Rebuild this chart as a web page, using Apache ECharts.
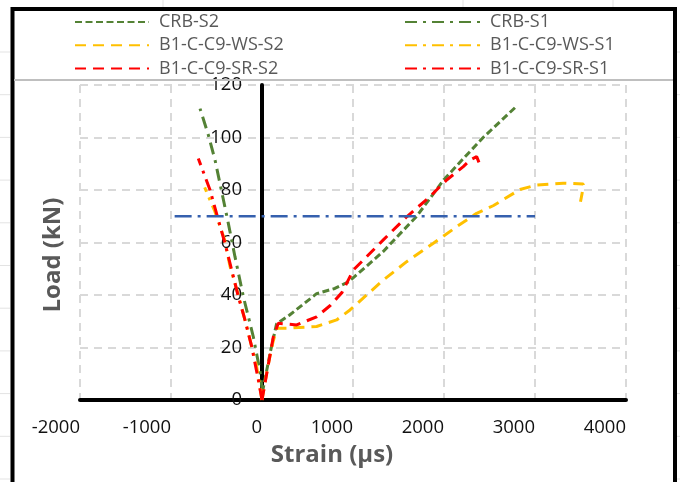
<!DOCTYPE html>
<html>
<head>
<meta charset="utf-8">
<script src="https://cdn.jsdelivr.net/npm/echarts@6/dist/echarts.min.js"></script>
<style>html,body{margin:0;padding:0;background:#fff;}#c{width:680px;height:482px;}</style>
</head>
<body>
<div id="c"></div>
<script>
// ---- data (strain in µs, load in kN) ----
const xTicks = [-2000, -1000, 0, 1000, 2000, 3000, 4000];
const yTicks = [0, 20, 40, 60, 80, 100, 120];
const seriesNames = ['CRB-S2', 'CRB-S1', 'B1-C-C9-WS-S2', 'B1-C-C9-WS-S1', 'B1-C-C9-SR-S2', 'B1-C-C9-SR-S1'];

const crbS2 = [[5,3],[90,18],[160,29],[300,32.3],[600,40.5],[800,42.5],[950,45],[1150,51],[1330,56.5],[1480,62],[1700,70],[2000,84],[2200,91.5],[2430,100],[2800,112]];
const crbS1 = [[5,3],[-22,11],[-95,24],[-205,39.4],[-297,54.6],[-370,67.3],[-443,79.4],[-516,91.4],[-590,101],[-681,111]];
const wsS2  = [[0,0],[60,12],[120,22],[161,27.3],[308,27.4],[600,28],[820,30.5],[967,34.3],[1150,40],[1333,45.7],[1590,52.7],[1883,59.7],[2139,66],[2359,71.1],[2540,74],[2835,80.2],[3020,81.9],[3310,82.6],[3530,82.3],[3530,81],[3500,75.5]];
const wsS1  = [[0,0],[-60,13],[-168,28],[-260,40],[-352,51],[-410,61],[-520,72],[-630,81]];
const srS2  = [[0,0],[124,24],[179,29.2],[381,28.6],[600,31.7],[750,36],[880,41],[1003,49.5],[1150,54.6],[1333,61],[1590,69.8],[1846,77.5],[2029,83.8],[2212,88.9],[2286,91.4],[2359,92.7],[2380,92],[2396,89.5]];
const srS1  = [[0,0],[-40,7.6],[-113,20.3],[-187,30.5],[-260,39.4],[-333,49.5],[-407,59.7],[-480,68.6],[-571,80],[-700,92]];
const refLine = [[-960,70],[3000,70]];

const GREEN = '#548235', ORANGE = '#FFC000', RED = '#FF0000', BLUE = '#3560AE';
const S2_DOT = [7,3.5], DASH = [11,7], DASHDOT = [12,6,3,6];

function mk(name, data, color, dash, lw) {
  return {
    name: name, type: 'line', data: data, symbol: 'none', showSymbol: false,
    lineStyle: { color: color, width: lw || 3, type: dash, cap: 'butt' },
    itemStyle: { color: color }, emphasis: { disabled: true }, animation: false
  };
}

const chart = echarts.init(document.getElementById('c'), null, { renderer: 'canvas' });

// faint spreadsheet cell lines outside the chart frame
const cellLines = [];
[163, 463, 613].forEach(function (x) {
  cellLines.push({ type: 'line', shape: { x1: x, y1: 0, x2: x, y2: 7 }, style: { stroke: '#e3e3e3', lineWidth: 1 }, silent: true });
});
for (let k = 0; k < 11; k++) {
  const y = 52 + 42.7 * k;
  cellLines.push({ type: 'line', shape: { x1: 0, y1: y, x2: 10, y2: y }, style: { stroke: '#e3e3e3', lineWidth: 1 }, silent: true });
  cellLines.push({ type: 'line', shape: { x1: 677, y1: y, x2: 680, y2: y }, style: { stroke: '#e3e3e3', lineWidth: 1 }, silent: true });
}

const legendText = { fontFamily: 'Open Sans', fontSize: 18, color: '#595959' };
const legendBase = { orient: 'vertical', top: 13, itemHeight: 18, itemGap: 5.3, padding: 0, selectedMode: false,
  itemStyle: { opacity: 0, borderWidth: 0 } };

chart.setOption({
  animation: false,
  backgroundColor: '#fff',
  grid: { left: 80, right: 54, top: 85, bottom: 82, containLabel: false, outerBoundsMode: 'none' },
  legend: [
    Object.assign({ data: [seriesNames[0], seriesNames[2], seriesNames[4]], left: 74, itemWidth: 74,
      textStyle: Object.assign({ padding: [0, 0, 0, 5] }, legendText) }, legendBase),
    Object.assign({ data: [seriesNames[1], seriesNames[3], seriesNames[5]], left: 404, itemWidth: 76,
      textStyle: Object.assign({ padding: [0, 0, 0, 4] }, legendText) }, legendBase)
  ],
  xAxis: {
    type: 'value', min: xTicks[0], max: xTicks[xTicks.length - 1], interval: 1000,
    name: 'Strain (µs)', nameLocation: 'middle', nameGap: 43,
    nameTextStyle: { fontFamily: 'Open Sans', fontSize: 24, fontWeight: 'bold', color: '#595959', padding: [0, 42, 0, 0] },
    axisLine: { show: true, onZero: true, lineStyle: { color: '#000', width: 4 } },
    axisTick: { show: false },
    axisLabel: { align: 'right', margin: 18, fontFamily: 'Open Sans', fontSize: 18.5, color: '#111',
      formatter: function (v) { return String(v); } },
    splitLine: { show: true, lineStyle: { color: '#d9d9d9', width: 2, type: [8, 6] } }
  },
  yAxis: {
    type: 'value', min: yTicks[0], max: yTicks[yTicks.length - 1], interval: 20,
    offset: -182,
    name: 'Load (kN)', nameLocation: 'middle', nameGap: 197,
    nameTextStyle: { fontFamily: 'Open Sans', fontSize: 24, fontWeight: 'bold', color: '#595959', padding: [0, 25, 0, 0] },
    axisLine: { show: true, onZero: false, lineStyle: { color: '#000', width: 4 } },
    axisTick: { show: false },
    axisLabel: { margin: 20, fontFamily: 'Open Sans', fontSize: 18.5, color: '#111',
      formatter: function (v) { return String(v); } },
    splitLine: { show: true, lineStyle: { color: '#d9d9d9', width: 2, type: [8, 6] } }
  },
  series: [
    mk(seriesNames[0], crbS2, GREEN, S2_DOT),
    mk(seriesNames[1], crbS1, GREEN, DASHDOT),
    mk(seriesNames[2], wsS2, ORANGE, DASH),
    mk(seriesNames[3], wsS1, ORANGE, DASHDOT),
    mk(seriesNames[4], srS2, RED, DASH),
    mk(seriesNames[5], srS1, RED, DASHDOT),
    mk('ref', refLine, BLUE, [17, 6, 3, 6], 2.5)
  ],
  graphic: cellLines.concat([
    { type: 'rect', shape: { x: 12.5, y: 9, width: 662.5, height: 500 }, style: { fill: null, stroke: '#000', lineWidth: 4 }, silent: true, z: 100 },
    { type: 'line', shape: { x1: 14, y1: 80, x2: 673, y2: 80 }, style: { stroke: '#bfbfbf', lineWidth: 2 }, silent: true, z: 100 }
  ])
});
</script>
</body>
</html>
